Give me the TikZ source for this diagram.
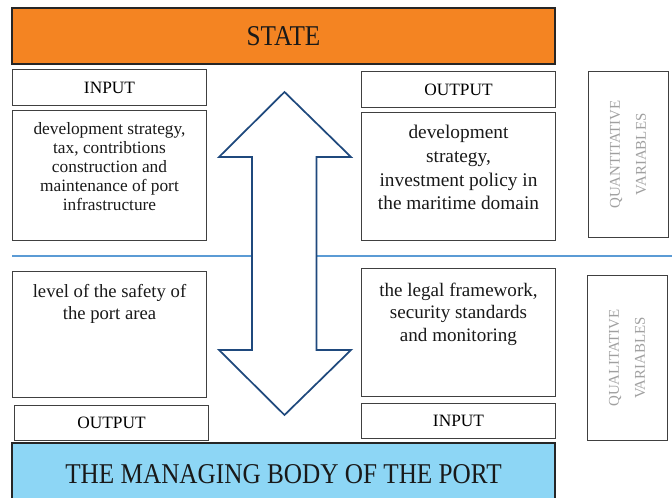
\documentclass[tikz,border=0pt]{standalone}
\usepackage{fontspec}
\setmainfont{Liberation Serif}

\definecolor{stateorange}{RGB}{244,132,34}
\definecolor{portblue}{RGB}{141,214,245}
\definecolor{arrowblue}{RGB}{31,73,125}
\definecolor{splitblue}{RGB}{91,155,213}
\definecolor{vargray}{RGB}{160,160,160}

\newcommand{\headtext}[1]{\scalebox{0.88}[1]{#1}}

\tikzset{
  headbox/.style={draw=black!85, line width=1.5pt, minimum width=407pt, minimum height=42pt,
    inner sep=0pt, font=\fontsize{21.5}{24}\selectfont, text=black!90},
  tagbox/.style={draw=black!75, line width=0.7pt, minimum width=146pt, minimum height=26.5pt,
    inner sep=0pt, font=\fontsize{13}{15}\selectfont},
  textbox/.style={draw=black!75, line width=0.7pt, minimum width=146pt, inner sep=0pt},
  boxtext/.style={anchor=north, align=center, inner sep=0pt, text=black!90},
  varbox/.style={draw=black!75, line width=0.7pt, rotate=90, minimum width=124pt, minimum height=60pt,
    align=center, text=vargray, font=\fontsize{11.2}{19.5}\selectfont},
}

\begin{document}
\begin{tikzpicture}[x=0.75pt, y=-0.75pt]
  \useasboundingbox (0,0) rectangle (672,498);
  \clip (0,0) rectangle (672,498);

  % top and bottom bars
  \node[headbox, fill=stateorange] (state) at (283.5,36) {\headtext{STATE}};
  \node[headbox, fill=portblue, minimum height=52pt] (body) at (283.5,478)
    {\raisebox{6pt}{\headtext{THE MANAGING BODY OF THE PORT}}};

  % upper half
  \node[tagbox] (inA) at (109.5,87.5) {INPUT};
  \node[textbox, minimum height=97.5pt] (boxA) at (109.5,175) {};
  \node[boxtext, font=\fontsize{13}{14.25}\selectfont] (txtA) at ([yshift=-9.5pt]boxA.north)
    {development strategy,\\ tax, contribtions\\ construction and\\ maintenance of port\\ infrastructure};
  \node[tagbox] (outB) at (458.5,89.5) {OUTPUT};
  \node[textbox, minimum height=95.5pt] (boxB) at (458.5,176.5) {};
  \node[boxtext, font=\fontsize{14.5}{17.8}\selectfont] (txtB) at ([yshift=-9.5pt]boxB.north)
    {development\\ strategy,\\ investment policy in\\ the maritime domain};

  % split line
  \draw[splitblue, line width=1.5pt] (12,256.5) -- (672,256.5);

  % lower half
  \node[textbox, minimum height=94.5pt] (boxC) at (109.5,334) {};
  \node[boxtext, font=\fontsize{14}{16}\selectfont] (txtC) at ([yshift=-10.5pt]boxC.north)
    {level of the safety of\\ the port area};
  \node[tagbox] (outC) at (111.5,423) {OUTPUT};
  \node[textbox, minimum height=95.5pt] (boxD) at (458.5,332.5) {};
  \node[boxtext, font=\fontsize{14.3}{17}\selectfont] (txtD) at ([yshift=-10.5pt]boxD.north)
    {the legal framework,\\ security standards\\ and monitoring};
  \node[tagbox] (inD) at (458.5,421) {INPUT};

  % side labels
  \node[varbox] (quant) at (628,154.5) {QUANTITATIVE\\ VARIABLES};
  \node[varbox] (qual) at (627,358) {QUALITATIVE\\ VARIABLES};

  % double arrow
  \draw[arrowblue, line width=1.3pt, fill=white, line join=miter]
    (284.5,92) -- (351,157) -- (316.5,157) -- (316.5,350) -- (351,350)
    -- (284.5,415) -- (219,350) -- (252,350) -- (252,157) -- (219,157) -- cycle;
\end{tikzpicture}
\end{document}
